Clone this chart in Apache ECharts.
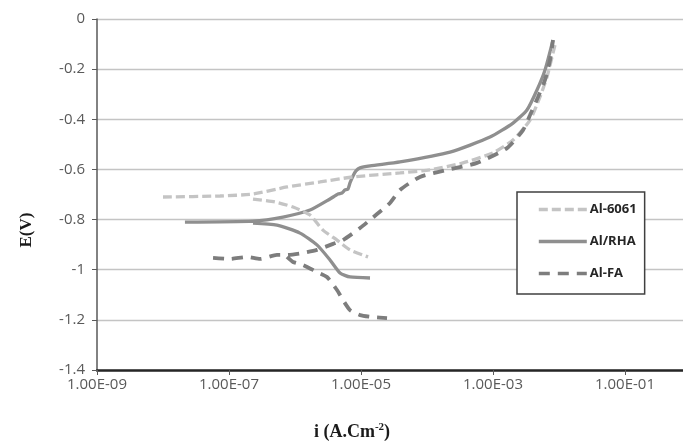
<!DOCTYPE html>
<html>
<head>
<meta charset="utf-8">
<style>
  html, body { margin: 0; padding: 0; background: #fff; }
  #chart { width: 683px; height: 445px; }
</style>
<script src="https://cdn.jsdelivr.net/npm/echarts@6/dist/echarts.min.js"></script>
</head>
<body>
<div id="chart"></div>
<script>
// Potentiodynamic polarization curves: current density i (A/cm²) vs potential E (V)
const seriesNames = ['Al-6061', 'Al/RHA', 'Al-FA'];
const yTicks = [0, -0.2, -0.4, -0.6, -0.8, -1, -1.2, -1.4];

// Al-6061: cathodic branch
const al6061CathI = [2.31e-7, 4.98e-7, 9.33e-7, 1.69e-6, 2.65e-6, 4.33e-6, 6.81e-6, 1.28e-5];
const al6061CathE = [-0.718, -0.730, -0.750, -0.782, -0.842, -0.882, -0.921, -0.949];
// Al-6061: anodic branch
const al6061AnodI = [1.0e-8, 7.31e-8, 2.31e-7, 7.57e-7, 2.39e-6, 7.57e-6, 3.90e-5, 1.11e-4,
                     3.51e-4, 1.0e-3, 2.01e-3, 3.64e-3, 5.15e-3, 6.58e-3, 7.83e-3, 8.69e-3];
const al6061AnodE = [-0.710, -0.706, -0.698, -0.670, -0.650, -0.630, -0.614, -0.602,
                     -0.574, -0.534, -0.483, -0.403, -0.311, -0.231, -0.152, -0.104];

// Al/RHA: cathodic branch
const alRhaCathI = [2.31e-7, 5.33e-7, 1.19e-6, 2.15e-6, 3.39e-6, 4.81e-6, 6.81e-6, 1.37e-5];
const alRhaCathE = [-0.814, -0.822, -0.854, -0.901, -0.961, -1.013, -1.029, -1.033];
// Al/RHA: anodic branch
const alRhaAnodI = [2.15e-8, 2.31e-7, 6.58e-7, 1.69e-6, 3.39e-6, 4.49e-6, 5.15e-6, 5.73e-6,
                    6.35e-6, 6.81e-6, 7.57e-6, 8.39e-6, 9.66e-6, 1.37e-5, 3.90e-5, 2.23e-4,
                    9.01e-4, 2.01e-3, 3.27e-3, 4.64e-3, 6.14e-3, 8.11e-3];
const alRhaAnodE = [-0.810, -0.806, -0.790, -0.762, -0.718, -0.698, -0.694, -0.682,
                    -0.678, -0.654, -0.626, -0.606, -0.594, -0.586, -0.570, -0.531,
                    -0.471, -0.415, -0.363, -0.283, -0.203, -0.084];

// Al-FA: cathodic branch
const alFaCathI = [7.57e-7, 9.33e-7, 1.32e-6, 2.15e-6, 3.05e-6, 4.33e-6, 5.33e-6, 6.81e-6,
                   9.66e-6, 1.52e-5, 2.48e-5];
const alFaCathE = [-0.949, -0.969, -0.981, -1.009, -1.029, -1.081, -1.121, -1.161,
                   -1.181, -1.189, -1.193];
// Al-FA: anodic branch
const alFaAnodI = [5.73e-8, 1.03e-7, 1.87e-7, 2.95e-7, 5.33e-7, 7.57e-7, 1.32e-6, 2.15e-6,
                   3.77e-6, 5.33e-6, 9.66e-6, 1.75e-5, 2.75e-5, 3.90e-5, 7.83e-5, 2.01e-4,
                   5.73e-4, 1.63e-3, 2.85e-3, 3.64e-3, 4.81e-3, 6.14e-3, 7.31e-3, 8.11e-3];
const alFaAnodE = [-0.953, -0.957, -0.949, -0.957, -0.941, -0.941, -0.933, -0.921,
                   -0.897, -0.882, -0.834, -0.778, -0.734, -0.682, -0.630, -0.602,
                   -0.574, -0.515, -0.443, -0.383, -0.311, -0.243, -0.164, -0.084];

// join the two branches of a curve into one series, with a break between them
function branches(ci, ce, ai, ae) {
  const pts = ci.map((v, k) => [v, ce[k]]);
  pts.push(['-', '-']);
  return pts.concat(ai.map((v, k) => [v, ae[k]]));
}

function expLabel(v) {
  const parts = Number(v).toExponential(2).toUpperCase().split('E');
  const p = parseInt(parts[1], 10);
  return parts[0] + 'E' + (p < 0 ? '-' : '+') + String(Math.abs(p)).padStart(2, '0');
}

const chart = echarts.init(document.getElementById('chart'), null, { renderer: 'canvas' });

const labelFont = { fontFamily: 'Open Sans', fontSize: 15, color: '#595959' };

chart.setOption({
  animation: false,
  backgroundColor: '#ffffff',
  grid: { left: 97, top: 19, width: 594, height: 351, containLabel: false, outerBoundsMode: 'none' },
  xAxis: {
    type: 'log',
    logBase: 10,
    min: 1e-9,
    max: 1,
    interval: 2,
    axisLine: { show: true, onZero: false, lineStyle: { color: '#262626', width: 2.5 } },
    axisTick: { show: true, length: 5, lineStyle: { color: '#595959', width: 1 } },
    minorTick: { show: false },
    splitLine: { show: false },
    axisLabel: Object.assign({ margin: 7, formatter: expLabel, showMaxLabel: false }, labelFont)
  },
  yAxis: {
    type: 'value',
    min: -1.4,
    max: 0,
    interval: 0.2,
    axisLine: { show: true, lineStyle: { color: '#595959', width: 1.5 } },
    axisTick: { show: true, length: 5, lineStyle: { color: '#595959', width: 1 } },
    splitLine: { show: true, lineStyle: { color: '#c4c4c4', width: 1.3 } },
    axisLabel: Object.assign({
      margin: 12,
      formatter: v => {
        const t = yTicks.find(y => Math.abs(y - v) < 1e-6);
        return String(t !== undefined ? t : +v.toFixed(1));
      }
    }, labelFont)
  },
  legend: {
    orient: 'vertical',
    left: 517,
    top: 192,
    data: seriesNames,
    itemWidth: 48,
    itemHeight: 14,
    itemGap: 19,
    padding: [11, 8, 14, 20],
    backgroundColor: '#ffffff',
    borderColor: '#404040',
    borderWidth: 1.5,
    borderRadius: 0,
    itemStyle: { color: 'rgba(0,0,0,0)', borderWidth: 0, opacity: 0 },
    lineStyle: { width: 3.6 },
    textStyle: { fontFamily: 'Open Sans', fontSize: 13, fontWeight: 'bold', color: '#262626', padding: [0, 0, 0, -2] }
  },
  series: [
    {
      name: seriesNames[0], type: 'line', symbol: 'none', showSymbol: false,
      connectNulls: false, smooth: 0.2, z: 3,
      lineStyle: { color: '#c4c4c4', width: 3.3, type: [9, 4], cap: 'butt' },
      itemStyle: { color: '#c4c4c4' },
      data: branches(al6061CathI, al6061CathE, al6061AnodI, al6061AnodE)
    },
    {
      name: seriesNames[1], type: 'line', symbol: 'none', showSymbol: false,
      connectNulls: false, smooth: 0.2, z: 2,
      lineStyle: { color: '#8f8f8f', width: 3.3, type: 'solid' },
      itemStyle: { color: '#8f8f8f' },
      data: branches(alRhaCathI, alRhaCathE, alRhaAnodI, alRhaAnodE)
    },
    {
      name: seriesNames[2], type: 'line', symbol: 'none', showSymbol: false,
      connectNulls: false, smooth: 0.2, z: 4,
      lineStyle: { color: '#7d7d7d', width: 3.8, type: [11, 8], cap: 'butt' },
      itemStyle: { color: '#7d7d7d' },
      data: branches(alFaCathI, alFaCathE, alFaAnodI, alFaAnodE)
    }
  ],
  graphic: [
    {
      type: 'text', x: 27, y: 230, rotation: Math.PI / 2,
      style: {
        text: 'E(V)', fill: '#1a1a1a', align: 'center', verticalAlign: 'middle',
        font: 'bold 17px "Liberation Serif"'
      }
    },
    {
      type: 'text', x: 352, y: 432,
      style: {
        text: '{a|i (A.Cm}{s|-2}{a|)}', align: 'center', verticalAlign: 'middle',
        rich: {
          a: { fontFamily: 'Liberation Serif', fontWeight: 'bold', fontSize: 18, fill: '#1a1a1a', lineHeight: 20 },
          s: { fontFamily: 'Liberation Serif', fontWeight: 'bold', fontSize: 11, fill: '#1a1a1a', verticalAlign: 'top', lineHeight: 12 }
        }
      }
    }
  ]
});
</script>
</body>
</html>
